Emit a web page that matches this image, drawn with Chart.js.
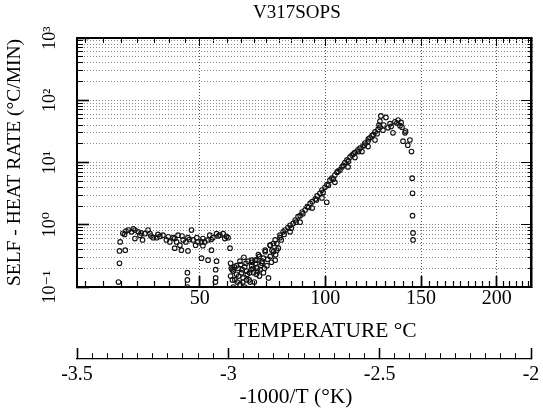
<!DOCTYPE html>
<html>
<head>
<meta charset="utf-8">
<style>
  html, body { margin: 0; padding: 0; background: #fff; }
  canvas { display: block; }
</style>
</head>
<body>
<canvas id="chart" width="543" height="412"></canvas>
<script src="https://cdn.jsdelivr.net/npm/chart.js@4/dist/chart.umd.min.js"></script>
<script>
// self-heat rate data: temperature (°C) and rate (°C/min)
const tempC = [
  24.7, 25.5, 26.4, 27.1, 28.1, 29.1, 30.1, 30.6, 31.4, 32.1, 33.1, 33.7, 34.7, 35.8, 36.8, 37.8,
  38.9, 40.0, 41.1, 42.2, 42.7, 43.3, 44.4, 45.3, 46.0, 47.2, 47.7, 48.6, 49.4, 50.6, 51.7, 52.9,
  53.5, 54.6, 55.9, 57.1, 58.3, 59.5, 60.1,
  26.0, 28.6, 31.0, 34.0, 36.2, 39.5, 41.6, 44.0, 46.5, 49.0, 51.1, 54.0, 56.5, 58.9,
  24.5, 26.2, 24.5, 24.2, 29.1, 41.6, 43.8, 46.0, 45.8, 45.8, 45.8, 50.6, 52.9, 55.9, 55.6, 55.6,
  55.5, 60.8, 54.1, 51.1,
  61.0, 61.3, 62.0, 61.0, 61.7, 62.0, 63.2, 63.8, 64.5, 65.1, 65.7, 66.3, 67.0, 67.6, 68.0, 66.3,
  69.0, 69.7, 70.3, 71.0, 71.6, 72.0, 73.0, 73.6, 74.3, 75.0, 75.6, 76.3, 77.0, 77.6, 79.0, 79.6,
  78.3, 67.0, 68.4, 64.5, 62.6, 63.2, 69.0, 72.3, 71.0, 73.6, 77.6, 76.3, 80.3,
  62.4, 64.0, 65.4, 66.8, 68.2, 69.5, 70.8, 72.6, 74.0, 75.3, 66.0, 70.0, 63.5, 76.8, 78.5,
  64.8, 67.3, 69.2, 71.3, 73.2, 65.6, 68.8, 72.0, 61.6, 70.5,
  74.3, 76.3, 78.3, 80.3, 81.6, 82.4, 83.6, 84.5, 85.8, 86.7, 87.9, 88.8, 89.7, 91.0, 91.9, 93.2,
  94.1, 95.5, 96.3, 97.6, 98.5, 99.9, 100.8, 100.7, 102.2, 103.1, 104.5, 105.5, 106.9, 107.9, 109.3,
  110.3, 111.8, 112.8, 114.2, 115.7, 116.7, 118.2, 119.2, 120.8, 121.8, 122.8, 124.4, 126.0, 127.0,
  80.8, 84.5, 88.8, 94.1, 98.5, 104.5, 110.8, 114.2, 117.7, 120.8, 124.4,
  79.0, 82.0, 85.0, 87.0, 90.0, 92.5, 96.0, 99.0, 101.5, 103.8, 106.0, 108.5, 111.0, 113.5, 116.0,
  119.0, 121.0, 123.5, 125.5,
  127.5, 127.0, 128.6, 130.2, 131.3, 132.4, 134.0, 135.1, 136.2, 137.9, 139.0, 139.6, 140.7, 142.3,
  143.5, 144.4, 144.8, 145.0, 145.0, 145.3, 145.3,
  129.0, 133.0, 136.8, 138.5, 141.0, 126.5
];
const rate = [
  0.53, 0.73, 0.79, 0.82, 0.77, 0.82, 0.77, 0.68, 0.57, 0.72, 0.82, 0.72, 0.62, 0.62, 0.65, 0.68,
  0.57, 0.53, 0.62, 0.53, 0.68, 0.47, 0.57, 0.53, 0.62, 0.82, 0.57, 0.47, 0.53, 0.53, 0.53, 0.57,
  0.68, 0.62, 0.72, 0.68, 0.72, 0.65, 0.62,
  0.70, 0.86, 0.74, 0.66, 0.70, 0.64, 0.60, 0.66, 0.58, 0.62, 0.60, 0.58, 0.66, 0.60,
  0.38, 0.39, 0.24, 0.12, 0.60, 0.42, 0.39, 0.38, 0.17, 0.13, 0.10, 0.29, 0.27, 0.26, 0.19, 0.14,
  0.12, 0.42, 0.39, 0.46,
  0.24, 0.20, 0.18, 0.15, 0.13, 0.10, 0.16, 0.20, 0.26, 0.17, 0.14, 0.21, 0.18, 0.26, 0.13, 0.10,
  0.22, 0.17, 0.27, 0.20, 0.33, 0.15, 0.24, 0.29, 0.37, 0.22, 0.14, 0.31, 0.39, 0.37, 0.39, 0.42,
  0.27, 0.13, 0.12, 0.11, 0.13, 0.22, 0.27, 0.19, 0.27, 0.17, 0.50, 0.47, 0.62,
  0.21, 0.15, 0.19, 0.24, 0.17, 0.20, 0.16, 0.22, 0.20, 0.28, 0.30, 0.12, 0.12, 0.25, 0.33,
  0.23, 0.16, 0.25, 0.18, 0.26, 0.12, 0.19, 0.31, 0.19, 0.24,
  0.39, 0.47, 0.57, 0.68, 0.77, 0.82, 0.90, 0.98, 1.05, 1.19, 1.35, 1.40, 1.60, 1.73, 1.95, 2.2,
  2.35, 2.6, 2.9, 3.2, 3.6, 4.0, 4.4, 2.3, 5.2, 5.6, 6.3, 7.0, 7.6, 8.5, 10,
  11, 12.3, 13.2, 14.5, 16, 17, 18.4, 20.5, 22, 25, 27, 31, 34, 37,
  0.57, 0.77, 1.10, 1.85, 2.7, 4.8, 8.5, 12, 15, 18, 23,
  0.50, 0.70, 0.88, 1.10, 1.50, 1.90, 2.5, 3.3, 4.3, 5.4, 7.2, 9.0, 10.5, 13.8, 15.0,
  19, 24, 28, 29,
  56, 46, 33, 53, 36, 42, 30, 45, 43, 39, 37, 22, 30, 19,
  23, 15, 5.6, 3.2, 1.4, 0.74, 0.57,
  40, 38, 48, 44, 32, 40
];

// axis ticks
const tempLabels = [50, 100, 150, 200];
const tempMinor = 5;            // minor tick step on the temperature scale, °C
const tempRange = [15, 225];
const invLabels = [-3.5, -3, -2.5, -2];
const invMinor = 0.05;
const decades = [0.1, 1, 10, 100, 1000];
const decadeLabels = ['10⁻¹', '10⁰', '10¹', '10²', '10³'];

const toInv = t => -1000 / (t + 273.15);
const points = tempC.map((t, i) => ({ x: toInv(t), y: rate[i] }));

const serif = "'Liberation Serif', 'DejaVu Serif', serif";
Chart.defaults.font.family = serif;
Chart.defaults.font.size = 20;
Chart.defaults.color = '#000';

function tempTicks(scale) {
  const list = [];
  for (let t = tempRange[0]; t <= tempRange[1]; t += tempMinor) {
    list.push({ value: toInv(t), temp: t, major: tempLabels.includes(t) });
  }
  scale.ticks = list;
}

function invTicks(scale) {
  const list = [];
  const n = Math.round((invLabels[invLabels.length - 1] - invLabels[0]) / invMinor);
  for (let i = 0; i <= n; i++) {
    const v = Math.round((invLabels[0] + i * invMinor) * 100) / 100;
    list.push({ value: v, major: invLabels.includes(v) });
  }
  scale.ticks = list;
}

function rateTicks(scale) {
  const list = [];
  decades.forEach((d, i) => {
    for (let m = 1; m <= 9; m++) {
      if (d * m > 1000.001) break;
      list.push({ value: d * m, major: m === 1, lab: m === 1 ? decadeLabels[i] : '' });
    }
  });
  scale.ticks = list;
}

const isMajor = c => !!(c.tick && c.tick.major);
// minor ticks drawn shorter with a dash pattern; fromBorder = tick is stroked starting at the axis line
const shortTick = (len, minorLen, fromBorder) => c =>
  isMajor(c) ? [] : (fromBorder ? [minorLen, 100] : [0, len - minorLen, minorLen, 100]);
// keep the long last tick label from shrinking the plot
const fixPad = h => s => { s.height = h; s.paddingLeft = 0; s.paddingRight = 0; };

new Chart(document.getElementById('chart'), {
  type: 'scatter',
  data: {
    datasets: [{
      label: 'V317SOPS',
      data: points,
      pointStyle: 'circle',
      pointRadius: 2.3,
      pointBorderWidth: 1.1,
      pointBorderColor: '#111',
      pointBackgroundColor: 'rgba(255,255,255,0)',
      showLine: false
    }]
  },
  options: {
    responsive: false,
    animation: false,
    layout: { padding: 0 },
    plugins: {
      legend: { display: false },
      tooltip: { enabled: false },
      title: {
        display: true,
        text: 'V317SOPS   ',
        fullSize: false,
        color: '#000',
        font: { family: serif, size: 19, weight: 'normal' },
        padding: { top: 2, bottom: 0 }
      }
    },
    scales: {
      x: {
        type: 'linear',
        position: 'bottom',
        min: invLabels[0],
        max: invLabels[invLabels.length - 1],
        afterBuildTicks: tempTicks,
        afterFit: fixPad(72),
        ticks: {
          autoSkip: false,
          maxRotation: 0,
          padding: 11,
          font: { size: 20 },
          callback: (v, i, t) => (t[i].major ? String(t[i].temp) : '')
        },
        grid: {
          display: true,
          drawOnChartArea: true,
          color: c => (isMajor(c) ? '#555' : 'rgba(0,0,0,0)'),
          lineWidth: 1,
          tickColor: '#000',
          tickLength: -11,
          tickWidth: c => (isMajor(c) ? 1.8 : 1.2),
          tickBorderDash: shortTick(11, 7, true)
        },
        border: { display: true, color: '#000', width: 2, dash: [1, 2] },
        title: {
          display: true,
          text: '        TEMPERATURE °C',
          color: '#000',
          font: { family: serif, size: 21.5 },
          padding: { top: 0, bottom: 15 }
        }
      },
      x2: {
        type: 'linear',
        position: 'bottom',
        min: invLabels[0],
        max: invLabels[invLabels.length - 1],
        afterBuildTicks: invTicks,
        afterFit: fixPad(53),
        ticks: {
          autoSkip: false,
          maxRotation: 0,
          padding: 15,
          font: { size: 20 },
          callback: (v, i, t) => (t[i].major ? String(t[i].value) : '')
        },
        grid: {
          drawOnChartArea: false,
          tickColor: '#000',
          tickLength: -11,
          tickWidth: c => (isMajor(c) ? 1.6 : 1),
          tickBorderDash: shortTick(11, 6, true)
        },
        border: { display: true, color: '#000', width: 1.2 },
        title: {
          display: true,
          text: '-1000/T (°K)   ',
          color: '#000',
          font: { family: serif, size: 21.5 },
          padding: { top: 0, bottom: 2 }
        }
      },
      xTop: {
        type: 'linear',
        position: 'top',
        min: invLabels[0],
        max: invLabels[invLabels.length - 1],
        afterBuildTicks: tempTicks,
        afterFit: s => { s.height = 38 - 24.8; s.paddingLeft = 0; s.paddingRight = 0; },
        ticks: { display: false, autoSkip: false },
        grid: {
          drawOnChartArea: false,
          tickColor: '#000',
          tickLength: -8,
          tickWidth: 1,
          tickBorderDash: shortTick(8, 5, false)
        },
        border: { display: true, color: '#000', width: 2 }
      },
      y: {
        type: 'logarithmic',
        position: 'left',
        min: decades[0],
        max: decades[decades.length - 1],
        afterBuildTicks: rateTicks,
        afterFit: s => { s.width = 77; },
        ticks: {
          autoSkip: false,
          minRotation: 90,
          maxRotation: 90,
          crossAlign: 'center',
          padding: 22,
          font: { size: 18 },
          callback: (v, i, t) => t[i].lab
        },
        grid: {
          color: '#8a8a8a',
          lineWidth: 1,
          tickColor: '#000',
          tickLength: -12,
          tickWidth: c => (isMajor(c) ? 1.6 : 1),
          tickBorderDash: shortTick(12, 6, false)
        },
        border: { display: true, color: '#000', width: 2, dash: [1, 2] },
        title: {
          display: true,
          text: 'SELF - HEAT RATE (°C/MIN)',
          color: '#000',
          font: { family: serif, size: 19.5 },
          padding: { top: 3, bottom: 0 }
        }
      },
      yRight: {
        type: 'logarithmic',
        position: 'right',
        min: decades[0],
        max: decades[decades.length - 1],
        afterBuildTicks: rateTicks,
        afterFit: s => { s.width = 12; },
        ticks: { display: false, autoSkip: false },
        grid: {
          drawOnChartArea: false,
          tickColor: '#000',
          tickLength: -10,
          tickWidth: 1,
          tickBorderDash: shortTick(10, 5, true)
        },
        border: { display: true, color: '#000', width: 2.5 }
      }
    }
  }
});
</script>
</body>
</html>
